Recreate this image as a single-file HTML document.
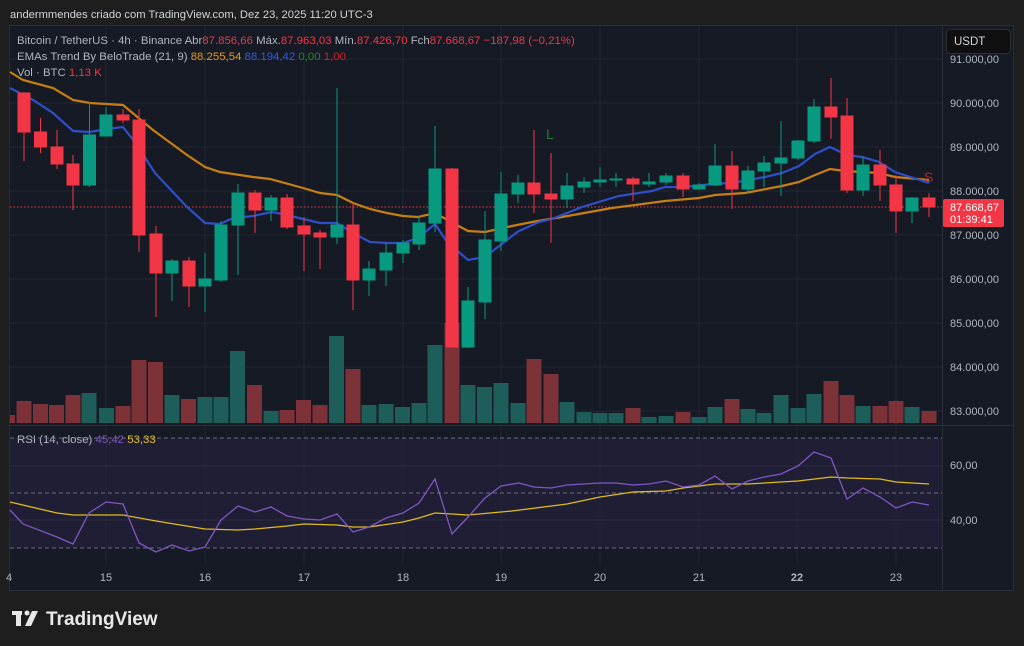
<!DOCTYPE html>
<html><head><meta charset="utf-8"><style>
body{margin:0;width:1024px;height:646px;background:#1e1e1e;overflow:hidden;font-family:"Liberation Sans",sans-serif}
svg{position:absolute;left:0;top:0}
text{font-family:"Liberation Sans",sans-serif}
.g{fill:#089981;stroke:#089981}.r{fill:#f23645;stroke:#f23645}
.vg{fill:#1e5e5a}.vr{fill:#7c3237}
</style></head><body>
<svg width="1024" height="646" viewBox="0 0 1024 646">
<text x="10" y="18" fill="#d1d4dc" font-size="11.2">andermmendes criado com TradingView.com, Dez 23, 2025 11:20 UTC-3</text>
<rect x="9.5" y="25.5" width="1004" height="565" fill="#161a25" stroke="#2a2e39"/>
<rect x="10" y="438" width="932" height="110" fill="#201e34"/>
<g stroke="#232733" stroke-width="1">
<line x1="10" y1="59" x2="942" y2="59"/><line x1="10" y1="103" x2="942" y2="103"/><line x1="10" y1="147" x2="942" y2="147"/><line x1="10" y1="191" x2="942" y2="191"/><line x1="10" y1="235" x2="942" y2="235"/><line x1="10" y1="279" x2="942" y2="279"/><line x1="10" y1="323" x2="942" y2="323"/><line x1="10" y1="367" x2="942" y2="367"/><line x1="10" y1="411" x2="942" y2="411"/>
<line x1="106" y1="26" x2="106" y2="563"/><line x1="205" y1="26" x2="205" y2="563"/><line x1="304" y1="26" x2="304" y2="563"/><line x1="403" y1="26" x2="403" y2="563"/><line x1="501" y1="26" x2="501" y2="563"/><line x1="600" y1="26" x2="600" y2="563"/><line x1="699" y1="26" x2="699" y2="563"/><line x1="797" y1="26" x2="797" y2="563"/><line x1="896" y1="26" x2="896" y2="563"/>
</g>
<line x1="10" y1="425.5" x2="1013" y2="425.5" stroke="#2a2e39"/>
<line x1="942.5" y1="26" x2="942.5" y2="590" stroke="#2a2e39"/>
<g>
<rect class="vr" x="10" y="415" width="5" height="8"/>
<rect class="vr" x="16.5" y="401" width="15" height="22"/><rect class="vr" x="33" y="404" width="15" height="19"/><rect class="vr" x="49" y="405" width="15" height="18"/><rect class="vr" x="65.5" y="395" width="15" height="28"/><rect class="vg" x="81.5" y="393" width="15" height="30"/><rect class="vg" x="99" y="408" width="15" height="15"/><rect class="vr" x="115.5" y="406" width="15" height="17"/><rect class="vr" x="131.5" y="360" width="15" height="63"/><rect class="vr" x="148" y="362" width="15" height="61"/><rect class="vg" x="164.5" y="395" width="15" height="28"/><rect class="vr" x="181" y="399" width="15" height="24"/><rect class="vg" x="197.5" y="397" width="15" height="26"/><rect class="vg" x="213.5" y="397" width="15" height="26"/><rect class="vg" x="230" y="351" width="15" height="72"/><rect class="vr" x="247" y="385" width="15" height="38"/><rect class="vg" x="263.5" y="411" width="15" height="12"/><rect class="vr" x="279.5" y="410" width="15" height="13"/><rect class="vr" x="296" y="400" width="15" height="23"/><rect class="vr" x="312.5" y="405" width="15" height="18"/><rect class="vg" x="329" y="336" width="15" height="87"/><rect class="vr" x="345.5" y="369" width="15" height="54"/><rect class="vg" x="361.5" y="405" width="15" height="18"/><rect class="vg" x="378.5" y="404" width="15" height="19"/><rect class="vg" x="395" y="407" width="15" height="16"/><rect class="vg" x="411.5" y="403" width="15" height="20"/><rect class="vg" x="427.5" y="345" width="15" height="78"/><rect class="vr" x="444.5" y="323" width="15" height="100"/><rect class="vg" x="460.5" y="385" width="15" height="38"/><rect class="vg" x="477" y="387" width="15" height="36"/><rect class="vg" x="493.5" y="383" width="15" height="40"/>
<rect class="vg" x="510.5" y="403" width="15" height="20"/><rect class="vr" x="526.5" y="359" width="15" height="64"/><rect class="vr" x="543.5" y="374" width="15" height="49"/><rect class="vg" x="559.5" y="402" width="15" height="21"/><rect class="vg" x="576.5" y="412" width="15" height="11"/><rect class="vg" x="592.5" y="413" width="15" height="10"/><rect class="vg" x="608.5" y="413" width="15" height="10"/><rect class="vr" x="625.5" y="408" width="15" height="15"/><rect class="vg" x="641.5" y="417" width="15" height="6"/><rect class="vg" x="658.5" y="416" width="15" height="7"/><rect class="vr" x="675.5" y="412" width="15" height="11"/><rect class="vg" x="691.5" y="417" width="15" height="6"/><rect class="vg" x="707.5" y="407" width="15" height="16"/><rect class="vr" x="724.5" y="399" width="15" height="24"/><rect class="vg" x="740.5" y="409" width="15" height="14"/><rect class="vg" x="756.5" y="413" width="15" height="10"/><rect class="vg" x="773.5" y="395" width="15" height="28"/><rect class="vg" x="790.5" y="408" width="15" height="15"/><rect class="vg" x="806.5" y="394" width="15" height="29"/><rect class="vr" x="823.5" y="381" width="15" height="42"/><rect class="vr" x="839.5" y="395" width="15" height="28"/><rect class="vg" x="855.5" y="406" width="15" height="17"/><rect class="vr" x="872.5" y="406" width="15" height="17"/><rect class="vr" x="888.5" y="401" width="15" height="22"/><rect class="vg" x="904.5" y="407" width="15" height="16"/><rect class="vr" x="921.5" y="411" width="15" height="12"/>
</g>
<line x1="10" y1="207" x2="942" y2="207" stroke="#f23645" stroke-dasharray="1.5 2" stroke-width="1"/>
<polyline fill="none" stroke="#c77f14" stroke-width="2.2" points="10,72 23,80 53,88 73,100 90,103 123,105 153,130 187,155 205,167 220,172 253,177 270,179 303,188 320,193 337,195 353,203 370,209 387,213 403,216 418,217 435,213 453,223 468,231 485,232 512,226 532,222 562,217 612,208 665,201 699,198 715,195 745,193 782,186 799,182 815,175 830,169 845,171 879,173 895,177 929,180"/>
<polyline fill="none" stroke="#2f4fc8" stroke-width="2.2" points="10,88 33,100 53,113 73,131 90,132 107,129 123,127 137,145 155,173 187,207 205,223 220,224 233,218 253,216 272,212 287,215 303,219 320,223 337,223 353,233 370,242 387,243 403,243 418,238 435,224 447,242 460,253 468,260 485,257 512,236 519,231 539,222 552,219 582,207 619,196 652,191 665,187 685,187 712,184 732,183 765,177 782,173 799,166 815,154 830,147 847,155 862,157 879,162 895,172 929,183"/>
<g stroke-width="1">
<line class="r" x1="24" y1="92" x2="24" y2="161"/><rect class="r" x="18" y="93" width="12" height="39"/>
<line class="r" x1="40.5" y1="118" x2="40.5" y2="153"/><rect class="r" x="34.5" y="132" width="12" height="15"/>
<line class="r" x1="57" y1="130" x2="57" y2="169"/><rect class="r" x="51" y="147" width="12" height="17"/>
<line class="r" x1="73" y1="155" x2="73" y2="210"/><rect class="r" x="67" y="164" width="12" height="21"/>
<line class="g" x1="89.5" y1="102" x2="89.5" y2="187"/><rect class="g" x="83.5" y="135" width="12" height="50"/>
<line class="g" x1="106" y1="107" x2="106" y2="136"/><rect class="g" x="100" y="115" width="12" height="21"/>
<line class="r" x1="123" y1="109" x2="123" y2="123"/><rect class="r" x="117" y="115" width="12" height="5"/>
<line class="r" x1="139" y1="109" x2="139" y2="252"/><rect class="r" x="133" y="120" width="12" height="115"/>
<line class="r" x1="156" y1="226" x2="156" y2="317"/><rect class="r" x="150" y="234" width="12" height="39"/>
<line class="g" x1="172" y1="259" x2="172" y2="301"/><rect class="g" x="166" y="261" width="12" height="12"/>
<line class="r" x1="189" y1="257" x2="189" y2="307"/><rect class="r" x="183" y="261" width="12" height="25"/>
<line class="g" x1="205" y1="253" x2="205" y2="312"/><rect class="g" x="199" y="279" width="12" height="7"/>
<line class="g" x1="221" y1="221" x2="221" y2="282"/><rect class="g" x="215" y="225" width="12" height="55"/>
<line class="g" x1="238" y1="184" x2="238" y2="275"/><rect class="g" x="232" y="193" width="12" height="32"/>
<line class="r" x1="255" y1="190" x2="255" y2="233"/><rect class="r" x="249" y="193" width="12" height="17"/>
<line class="g" x1="271" y1="195" x2="271" y2="221"/><rect class="g" x="265" y="198" width="12" height="12"/>
<line class="r" x1="287" y1="194" x2="287" y2="229"/><rect class="r" x="281" y="198" width="12" height="29"/>
<line class="r" x1="304" y1="217" x2="304" y2="271"/><rect class="r" x="298" y="226" width="12" height="8"/>
<line class="r" x1="320" y1="230" x2="320" y2="269"/><rect class="r" x="314" y="233" width="12" height="4"/>
<line class="g" x1="337" y1="88" x2="337" y2="244"/><rect class="g" x="331" y="225" width="12" height="12"/>
<line class="r" x1="353" y1="203" x2="353" y2="310"/><rect class="r" x="347" y="225" width="12" height="55"/>
<line class="g" x1="369" y1="261" x2="369" y2="296"/><rect class="g" x="363" y="269" width="12" height="11"/>
<line class="g" x1="386" y1="243" x2="386" y2="286"/><rect class="g" x="380" y="253" width="12" height="17"/>
<line class="g" x1="403" y1="240" x2="403" y2="263"/><rect class="g" x="397" y="243" width="12" height="10"/>
<line class="g" x1="419" y1="216" x2="419" y2="250"/><rect class="g" x="413" y="223" width="12" height="21"/>
<line class="g" x1="435" y1="126" x2="435" y2="232"/><rect class="g" x="429" y="169" width="12" height="54"/>
<line class="r" x1="452" y1="168" x2="452" y2="347"/><rect class="r" x="446" y="169" width="12" height="178"/>
<line class="g" x1="468" y1="287" x2="468" y2="348"/><rect class="g" x="462" y="301" width="12" height="46"/>
<line class="g" x1="485" y1="211" x2="485" y2="319"/><rect class="g" x="479" y="240" width="12" height="62"/>
<line class="g" x1="501" y1="172" x2="501" y2="251"/><rect class="g" x="495" y="194" width="12" height="47"/>
<line class="g" x1="518" y1="175" x2="518" y2="203"/><rect class="g" x="512" y="183" width="12" height="11"/>
<line class="r" x1="534" y1="130" x2="534" y2="213"/><rect class="r" x="528" y="183" width="12" height="11"/>
<line class="r" x1="551" y1="153" x2="551" y2="243"/><rect class="r" x="545" y="194" width="12" height="5"/>
<line class="g" x1="567" y1="173" x2="567" y2="208"/><rect class="g" x="561" y="186" width="12" height="13"/>
<line class="g" x1="584" y1="177" x2="584" y2="193"/><rect class="g" x="578" y="182" width="12" height="5"/>
<line class="g" x1="600" y1="167" x2="600" y2="187"/><rect class="g" x="594" y="180" width="12" height="2"/>
<line class="g" x1="616" y1="173" x2="616" y2="187"/><rect class="g" x="610" y="179" width="12" height="1"/>
<line class="r" x1="633" y1="177" x2="633" y2="201"/><rect class="r" x="627" y="179" width="12" height="5"/>
<line class="g" x1="649" y1="173" x2="649" y2="187"/><rect class="g" x="643" y="182" width="12" height="2"/>
<line class="g" x1="666" y1="173" x2="666" y2="185"/><rect class="g" x="660" y="176" width="12" height="6"/>
<line class="r" x1="683" y1="173" x2="683" y2="197"/><rect class="r" x="677" y="176" width="12" height="13"/>
<line class="g" x1="699" y1="183" x2="699" y2="190"/><rect class="g" x="693" y="185" width="12" height="4"/>
<line class="g" x1="715" y1="144" x2="715" y2="186"/><rect class="g" x="709" y="166" width="12" height="19"/>
<line class="r" x1="732" y1="151" x2="732" y2="209"/><rect class="r" x="726" y="166" width="12" height="23"/>
<line class="g" x1="748" y1="166" x2="748" y2="193"/><rect class="g" x="742" y="171" width="12" height="18"/>
<line class="g" x1="764" y1="156" x2="764" y2="187"/><rect class="g" x="758" y="163" width="12" height="8"/>
<line class="g" x1="781" y1="121" x2="781" y2="196"/><rect class="g" x="775" y="158" width="12" height="5"/>
<line class="g" x1="798" y1="140" x2="798" y2="160"/><rect class="g" x="792" y="141" width="12" height="17"/>
<line class="g" x1="814" y1="99" x2="814" y2="143"/><rect class="g" x="808" y="107" width="12" height="34"/>
<line class="r" x1="831" y1="78" x2="831" y2="139"/><rect class="r" x="825" y="107" width="12" height="10"/>
<line class="r" x1="847" y1="98" x2="847" y2="193"/><rect class="r" x="841" y="116" width="12" height="74"/>
<line class="g" x1="863" y1="156" x2="863" y2="196"/><rect class="g" x="857" y="165" width="12" height="25"/>
<line class="r" x1="880" y1="150" x2="880" y2="201"/><rect class="r" x="874" y="165" width="12" height="20"/>
<line class="r" x1="896" y1="175" x2="896" y2="233"/><rect class="r" x="890" y="185" width="12" height="26"/>
<line class="g" x1="912" y1="197" x2="912" y2="223"/><rect class="g" x="906" y="198" width="12" height="13"/>
<line class="r" x1="929" y1="193" x2="929" y2="217"/><rect class="r" x="923" y="198" width="12" height="9"/>
</g>
<text x="546" y="139" fill="#1e7b2a" font-size="14">L</text>
<text x="924" y="182" fill="#b2222e" font-size="14">S</text>
<g font-size="11.4">
<text x="17" y="44" fill="#b2b5be">Bitcoin / TetherUS · 4h · Binance  Abr<tspan fill="#f23645">87.856,66</tspan>  Máx.<tspan fill="#f23645">87.963,03</tspan>  Mín.<tspan fill="#f23645">87.426,70</tspan>  Fch<tspan fill="#f23645">87.668,67  −187,98 (−0,21%)</tspan></text>
<text x="17" y="60" fill="#b2b5be">EMAs Trend By BeloTrade (21, 9)  <tspan fill="#e39a19">88.255,54</tspan>  <tspan fill="#2e5de0">88.194,42</tspan>  <tspan fill="#1a8a22">0,00</tspan>  <tspan fill="#d0202c">1,00</tspan></text>
<text x="17" y="76" fill="#b2b5be">Vol · BTC  <tspan fill="#f23645">1,13 K</tspan></text>
<text x="17" y="443" fill="#b2b5be">RSI (14, close)  <tspan fill="#7e57c2">45,42</tspan>  <tspan fill="#e8c21a">53,33</tspan></text>
</g>
<rect x="946.5" y="29.5" width="64" height="24" rx="4" fill="#0f0f0f" stroke="#2e2e2e"/>
<text x="954" y="45" fill="#d1d4dc" font-size="11.5">USDT</text>
<g font-size="11" fill="#b2b5be">
<text x="950" y="63">91.000,00</text><text x="950" y="107">90.000,00</text><text x="950" y="151">89.000,00</text><text x="950" y="195">88.000,00</text><text x="950" y="239">87.000,00</text><text x="950" y="283">86.000,00</text><text x="950" y="327">85.000,00</text><text x="950" y="371">84.000,00</text><text x="950" y="415">83.000,00</text>
<text x="950" y="469">60,00</text><text x="950" y="524">40,00</text>
</g>
<rect x="943" y="199" width="61" height="28" rx="2" fill="#f23645"/>
<text x="950" y="211" fill="#fff" font-size="11">87.668,67</text>
<text x="950" y="223" fill="#fff" font-size="11">01:39:41</text>
<g stroke="#6b6880" stroke-dasharray="4 3" stroke-width="1">
<line x1="10" y1="438" x2="942" y2="438"/><line x1="10" y1="493" x2="942" y2="493"/><line x1="10" y1="548" x2="942" y2="548"/>
</g>
<g stroke="#2e2c44"><line x1="10" y1="466" x2="942" y2="466"/><line x1="10" y1="520" x2="942" y2="520"/></g>
<polyline fill="none" stroke="#e0bb1c" stroke-width="1.3" points="10,502 57,513 73,515 123,515 156,521 205,529 238,530 255,529 287,526 304,524 337,525 353,527 369,527 403,522 419,518 435,513 468,515 501,512 512,511 567,504 600,497 633,492 666,491 683,488 715,484 748,484 798,481 831,477 847,478 880,479 896,482 929,484"/>
<polyline fill="none" stroke="#7e57c2" stroke-width="1.3" points="10,510 23,524 57,537 73,544 89,513 106,502 123,504 139,543 156,552 172,545 189,551 205,547 221,520 238,506 255,512 271,507 287,516 304,519 320,520 337,514 353,532 369,527 386,518 403,513 419,503 435,479 452,534 468,517 485,498 501,486 519,483 534,487 551,488 567,485 600,483 616,483 633,485 649,484 666,481 683,487 699,485 715,476 732,489 748,481 764,477 781,474 798,466 814,452 831,458 847,499 863,488 880,497 896,508 912,502 929,505"/>
<g font-size="11" fill="#b2b5be" text-anchor="middle">
<text x="9" y="581">4</text><text x="106" y="581">15</text><text x="205" y="581">16</text><text x="304" y="581">17</text><text x="403" y="581">18</text><text x="501" y="581">19</text><text x="600" y="581">20</text><text x="699" y="581">21</text><text x="797" y="581" font-weight="bold">22</text><text x="896" y="581">23</text>
</g>
<g fill="#e8e8e8">
<rect x="12" y="611" width="10" height="4"/><rect x="16" y="611" width="5" height="15"/>
<circle cx="27" cy="613" r="2.5"/><polygon points="32,611 38,611 31,626 25,626"/>
</g>
<text x="46" y="625" fill="#e8e8e8" font-size="19" font-weight="bold">TradingView</text>
</svg>
</body></html>
